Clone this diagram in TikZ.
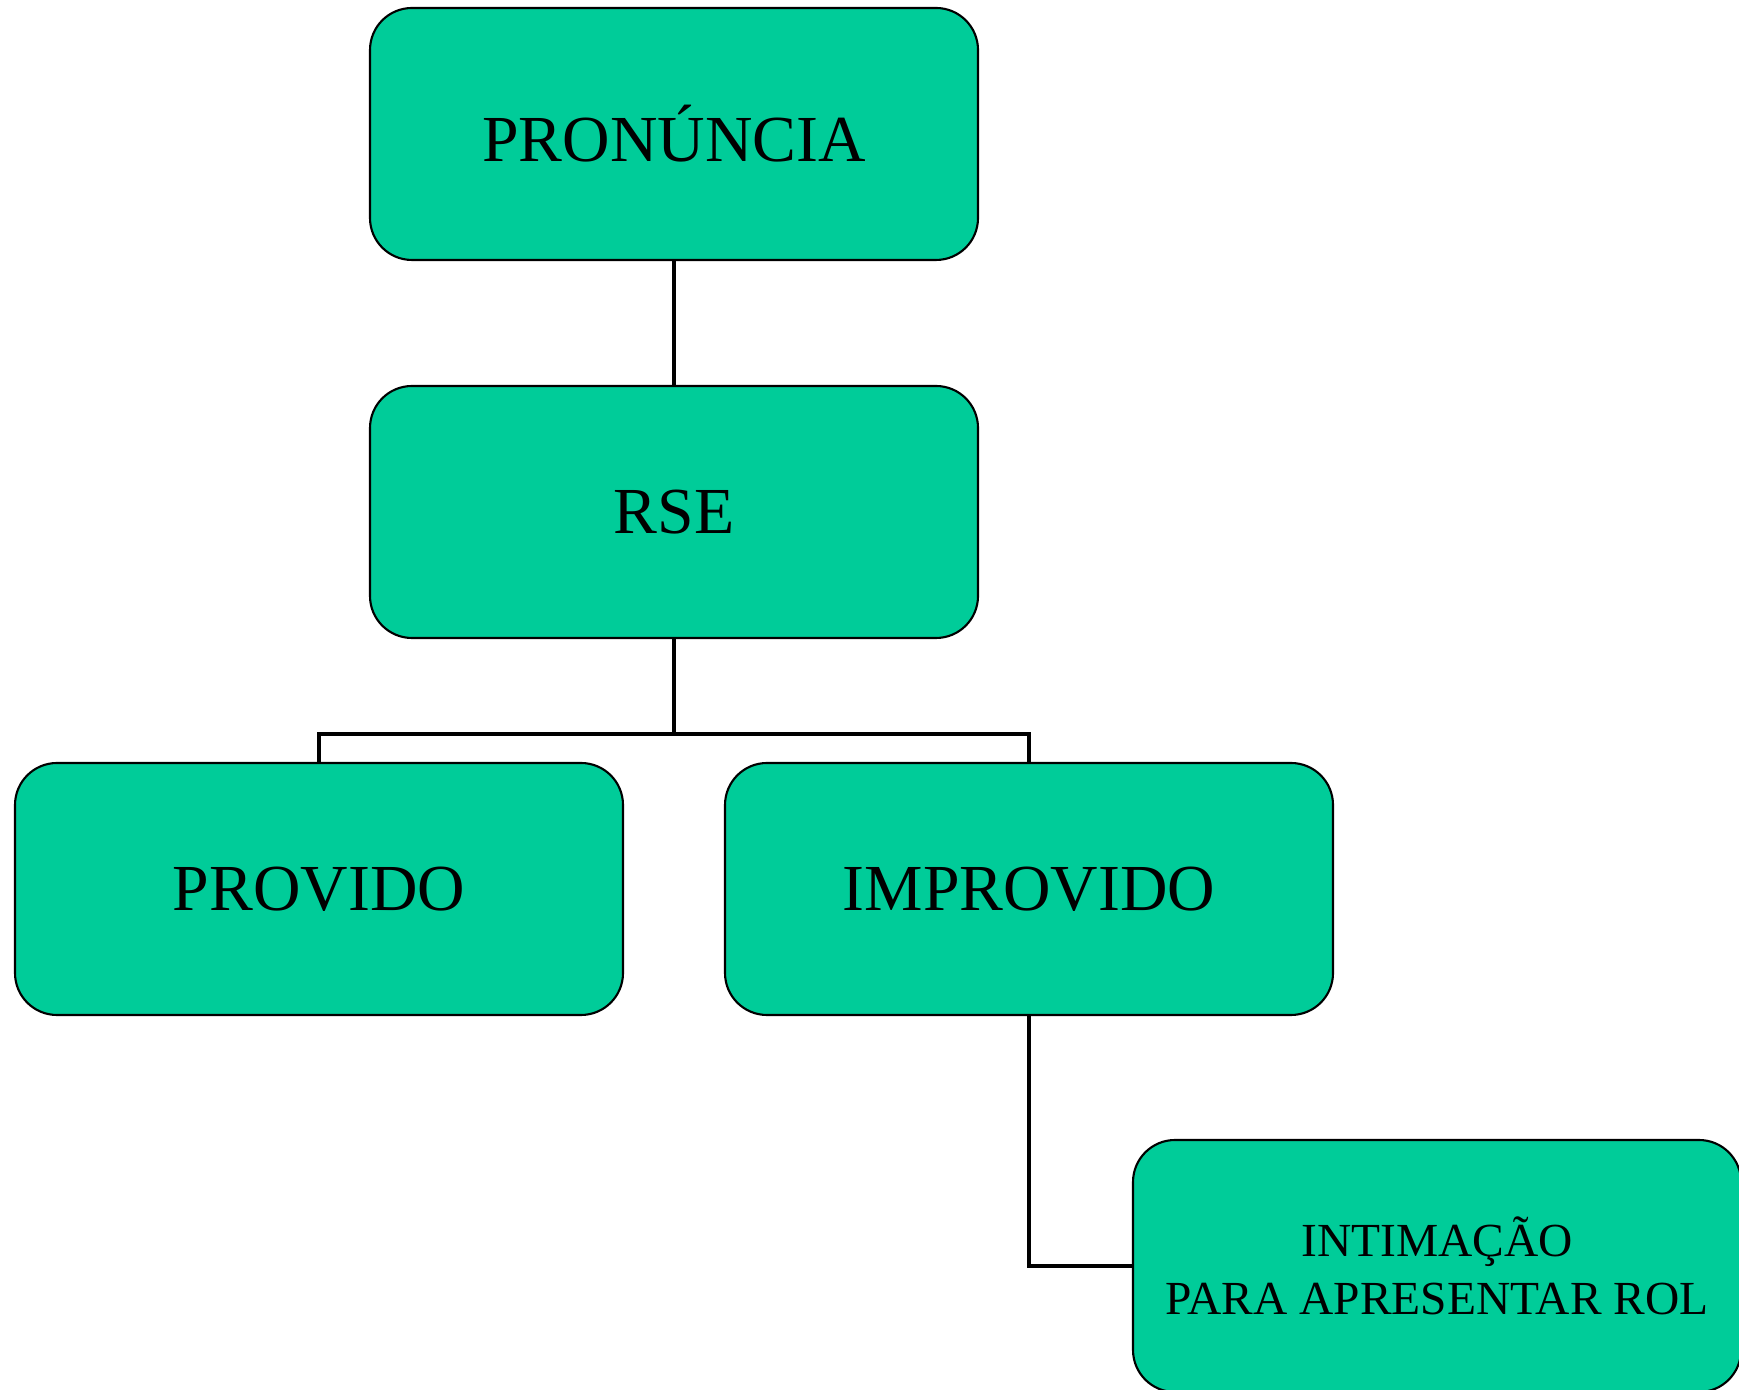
\documentclass[tikz,border=0pt]{standalone}
\usepackage{fontspec}
\setmainfont{Liberation Serif}
\definecolor{boxgreen}{HTML}{00CC99}
\begin{document}
\begin{tikzpicture}[
    caixa/.style={draw, line width=0.6pt, fill=boxgreen, rounded corners=0.42cm,
      minimum width=6.08cm, minimum height=2.52cm, font=\fontsize{18.7}{22}\selectfont},
    caixapeq/.style={caixa, align=center, font=\fontsize{13.5}{16.4}\selectfont},
    liga/.style={line width=1.4pt}]
        \useasboundingbox (0,0) rectangle (17.39,13.89);
        \node[caixa] (pron) at (6.74,12.55) {PRONÚNCIA};
        \node[caixa] (rse) at (6.74,8.77) {RSE};
        \node[caixa] (prov) at (3.19,5.0) {PROVIDO};
        \node[caixa] (improv) at (10.29,5.0) {IMPROVIDO};
        \node[caixapeq] (intim) at (14.37,1.23) {INTIMAÇÃO\\PARA APRESENTAR ROL};
        \coordinate (garfo) at (6.74,6.55);
        \draw [line width=1pt] (pron)--(rse);
        \draw [liga] (rse)--(garfo);
        \draw [liga] (prov.north) |- (garfo) -| (improv.north);
        \draw [liga] (improv.south) |- (intim.west);
      \end{tikzpicture}
\end{document}
